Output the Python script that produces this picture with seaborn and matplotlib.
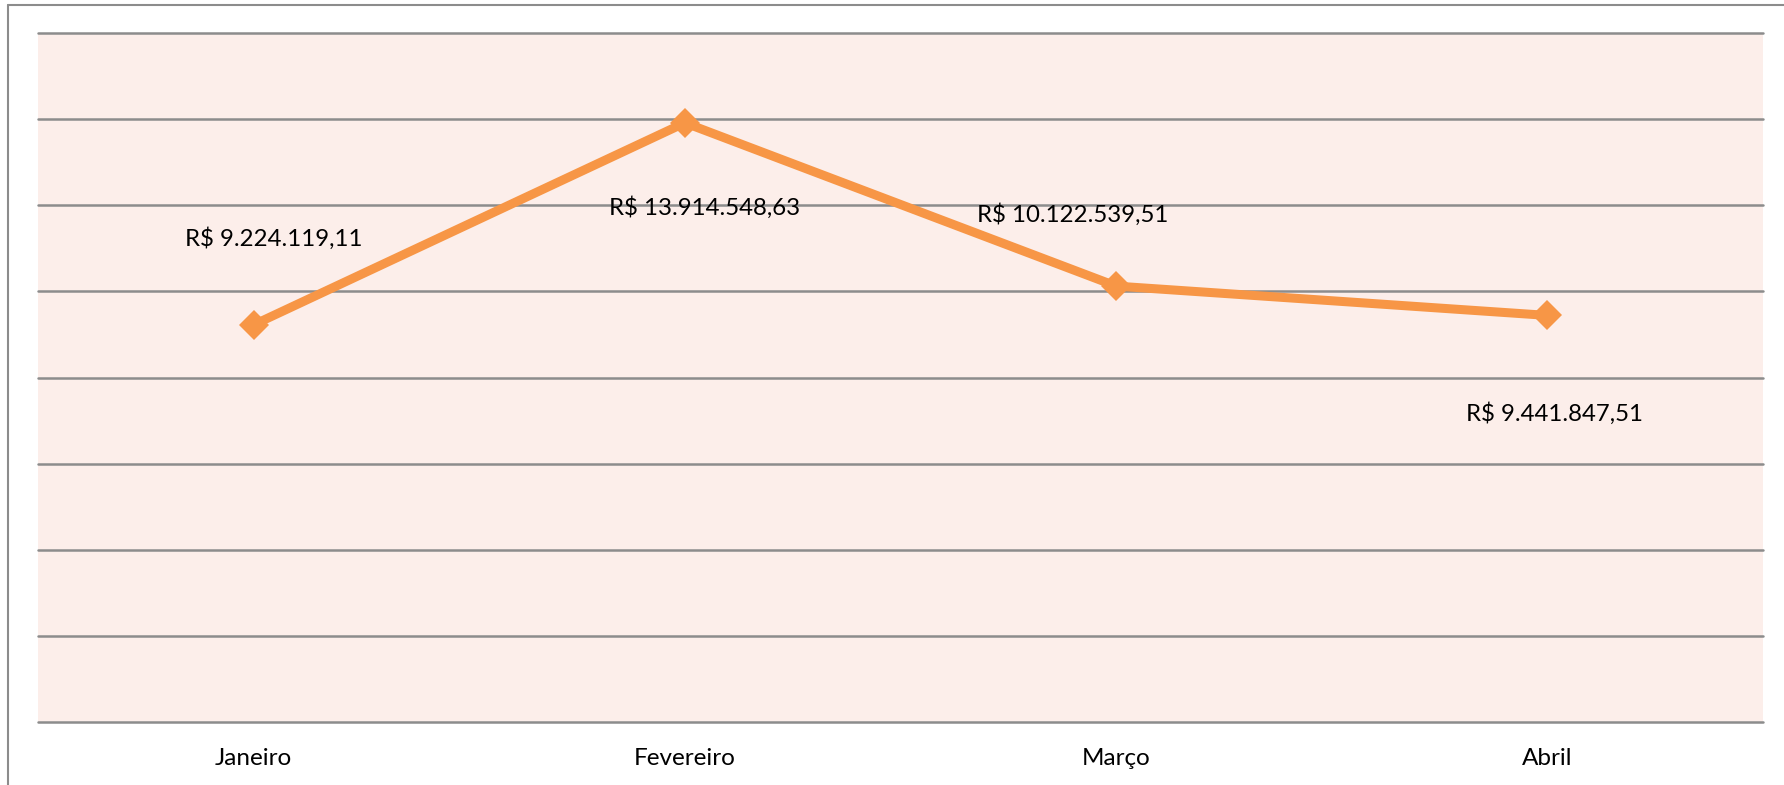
import matplotlib
matplotlib.use("Agg")
import matplotlib.pyplot as plt
import seaborn as sns
import pandas as pd
from matplotlib.lines import Line2D

months = ["Janeiro", "Fevereiro", "Março", "Abril"]
values = [9224119.11, 13914548.63, 10122539.51, 9441847.51]
labels = ["R$ 9.224.119,11", "R$ 13.914.548,63", "R$ 10.122.539,51", "R$ 9.441.847,51"]

sns.set_theme(style="white")
plt.rcParams['font.family'] = ['Lato', 'DejaVu Sans']

W, H = 1784, 785
fig = plt.figure(figsize=(W / 100, H / 100), dpi=100)
fig.patch.set_facecolor("white")

left, right, top, bottom = 38, 1763, 33, 722
ax = fig.add_axes([left / W, (H - bottom) / H, (right - left) / W, (bottom - top) / H])
ax.set_facecolor("#FCEEEA")

df = pd.DataFrame({"mes": months, "valor": values})
sns.lineplot(data=df, x="mes", y="valor", ax=ax, color="#F79646", linewidth=6.5,
             marker="D", markersize=15, markeredgewidth=0, sort=False)

ax.set_xlim(-0.5, 3.5)
ax.set_ylim(0, 16e6)
ax.set_yticks([i * 2e6 for i in range(9)])
ax.set_yticklabels([])
ax.grid(axis="y", color="#8C8C8C", linewidth=1.8)
ax.grid(axis="x", visible=False)
for gl in ax.get_ygridlines():
    gl.set_clip_on(False)
ax.set_axisbelow(True)
for s in ax.spines.values():
    s.set_visible(False)
ax.set_xlabel("")
ax.set_ylabel("")
ax.tick_params(axis="x", length=0, pad=18.5, labelsize=17.5, labelcolor="black")
ax.tick_params(axis="y", length=0)

offsets = [(20, 86), (20, -85), (-43, 72), (7, -98)]
for i, (v, lab) in enumerate(zip(values, labels)):
    ax.annotate(lab, (i, v), xytext=offsets[i], textcoords="offset pixels",
                ha="center", va="center", fontsize=17.3, color="black")

# outer frame (left and top edges)
fig.add_artist(Line2D([8 / W, 8 / W], [0, 1 - 5 / H], transform=fig.transFigure,
                      color="#8C8C8C", linewidth=1.5))
fig.add_artist(Line2D([8 / W, 1], [1 - 5 / H, 1 - 5 / H], transform=fig.transFigure,
                      color="#8C8C8C", linewidth=1.5))

fig.savefig("out.png", dpi=100, facecolor="white")
